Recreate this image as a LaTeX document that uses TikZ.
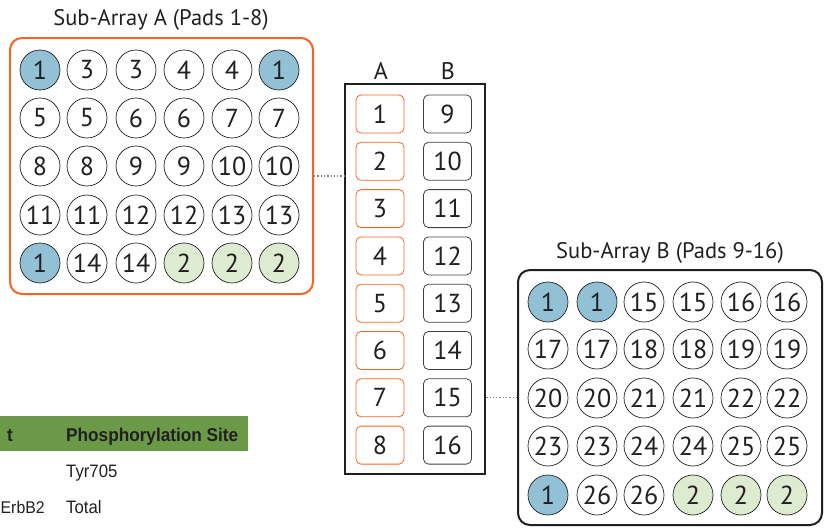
\documentclass[tikz,border=0pt]{standalone}
\usepackage{fontspec}
\setmainfont{PT Sans}
\newfontfamily\condfont[FakeStretch=0.93]{Liberation Sans}
\usetikzlibrary{calc}
\definecolor{txt}{HTML}{231F20}
\definecolor{padblue}{HTML}{92C1D5}
\definecolor{padgreen}{HTML}{DDEBD0}
\definecolor{orng}{HTML}{F26522}
\definecolor{barg}{HTML}{6A9A48}
\tikzset{
  pad/.style={circle, draw=txt, line width=0.7pt, minimum size=40pt, inner sep=0pt, text=txt, font=\fontsize{26}{26}\selectfont, fill=white},
  bluepad/.style={pad, fill=padblue},
  greenpad/.style={pad, fill=padgreen},
  slotA/.style={draw=orng, rounded corners=5pt, line width=0.8pt, minimum width=48pt, minimum height=38pt, inner sep=0pt, text=txt, font=\fontsize{26}{26}\selectfont},
  slotB/.style={slotA, draw=txt!85},
  ttl/.style={text=txt, font=\fontsize{22.5}{22.5}\selectfont, inner sep=0pt},
  link/.style={draw=gray, dotted, line width=1.3pt},
  tbl/.style={text=txt, inner sep=0pt, anchor=base west},
}
\begin{document}
\begin{tikzpicture}[x=1pt,y=-1pt]
\useasboundingbox (0,0) rectangle (825,528);
% Sub-array A
\node[draw=orng, line width=2pt, rounded corners=12pt, minimum width=303pt, minimum height=256pt, inner sep=0pt] (boxA) at (161.5,166) {};
\node[ttl] (titleA) at (161,20) {Sub-Array A (Pads 1-8)};
\def\cx{{40,87,136,184,232,279}}
\def\ry{{70,118,166,215,263}}
\foreach \lab [count=\i from 0] in {1,3,3,4,4,1,5,5,6,6,7,7,8,8,9,9,10,10,11,11,12,12,13,13,1,14,14,2,2,2}{
  \pgfmathtruncatemacro{\c}{mod(\i,6)}
  \pgfmathtruncatemacro{\r}{div(\i,6)}
  \pgfmathsetmacro{\xx}{\cx[\c]}
  \pgfmathsetmacro{\yy}{\ry[\r]}
  \ifnum\lab=1 \def\sty{bluepad}\else\ifnum\lab=2 \def\sty{greenpad}\else\def\sty{pad}\fi\fi
  \node[\sty] (a\i) at (\xx,\yy) {\lab};
}
% Middle slide
\node[draw=txt, line width=2.5pt, minimum width=140pt, minimum height=390pt, inner sep=0pt] (mid) at (415,279) {};
\node[ttl, font=\fontsize{24}{24}\selectfont] (colA) at (381,71) {A};
\node[ttl, font=\fontsize{24}{24}\selectfont] (colB) at (448,71) {B};
\foreach \k in {1,...,8}{
  \pgfmathsetmacro{\yy}{114+(\k-1)*47.3}
  \pgfmathtruncatemacro{\kb}{\k+8}
  \node[slotA] (sa\k) at (380,\yy) {\k};
  \node[slotB] (sb\k) at (447.5,\yy) {\kb};
}
% Sub-array B
\node[draw=txt, line width=2pt, rounded corners=12pt, minimum width=304pt, minimum height=255pt, inner sep=0pt] (boxB) at (670,397.5) {};
\node[ttl] (titleB) at (670,253) {Sub-Array B (Pads 9-16)};
\def\bx{{548,597,644,693,741,787}}
\def\by{{302,349,398,446,495}}
\foreach \lab [count=\i from 0] in {1,1,15,15,16,16,17,17,18,18,19,19,20,20,21,21,22,22,23,23,24,24,25,25,1,26,26,2,2,2}{
  \pgfmathtruncatemacro{\c}{mod(\i,6)}
  \pgfmathtruncatemacro{\r}{div(\i,6)}
  \pgfmathsetmacro{\xx}{\bx[\c]}
  \pgfmathsetmacro{\yy}{\by[\r]}
  \ifnum\lab=1 \def\sty{bluepad}\else\ifnum\lab=2 \def\sty{greenpad}\else\def\sty{pad}\fi\fi
  \node[\sty] (b\i) at (\xx,\yy) {\lab};
}
% dotted links
\draw[link] (boxA.east |- 0,176) -- (mid.west |- 0,176);
\draw[link] (mid.east |- boxB.west) -- (boxB.west);
% table fragment
\fill[barg] (0,416) rectangle (248,451);
\node[tbl, anchor=base east, font=\condfont\bfseries\fontsize{18.5}{18.5}\selectfont] (th1) at (13,441) {t};
\node[tbl, font=\condfont\bfseries\fontsize{18.5}{18.5}\selectfont] (th2) at (66,441) {Phosphorylation Site};
\node[tbl, font=\condfont\fontsize{18}{18}\selectfont] (c1) at (66,477) {Tyr705};
\node[tbl, font=\condfont\fontsize{17}{17}\selectfont] (r2) at (0.5,513) {ErbB2};
\node[tbl, font=\condfont\fontsize{18}{18}\selectfont] (c2) at (66,513) {Total};
\end{tikzpicture}
\end{document}
